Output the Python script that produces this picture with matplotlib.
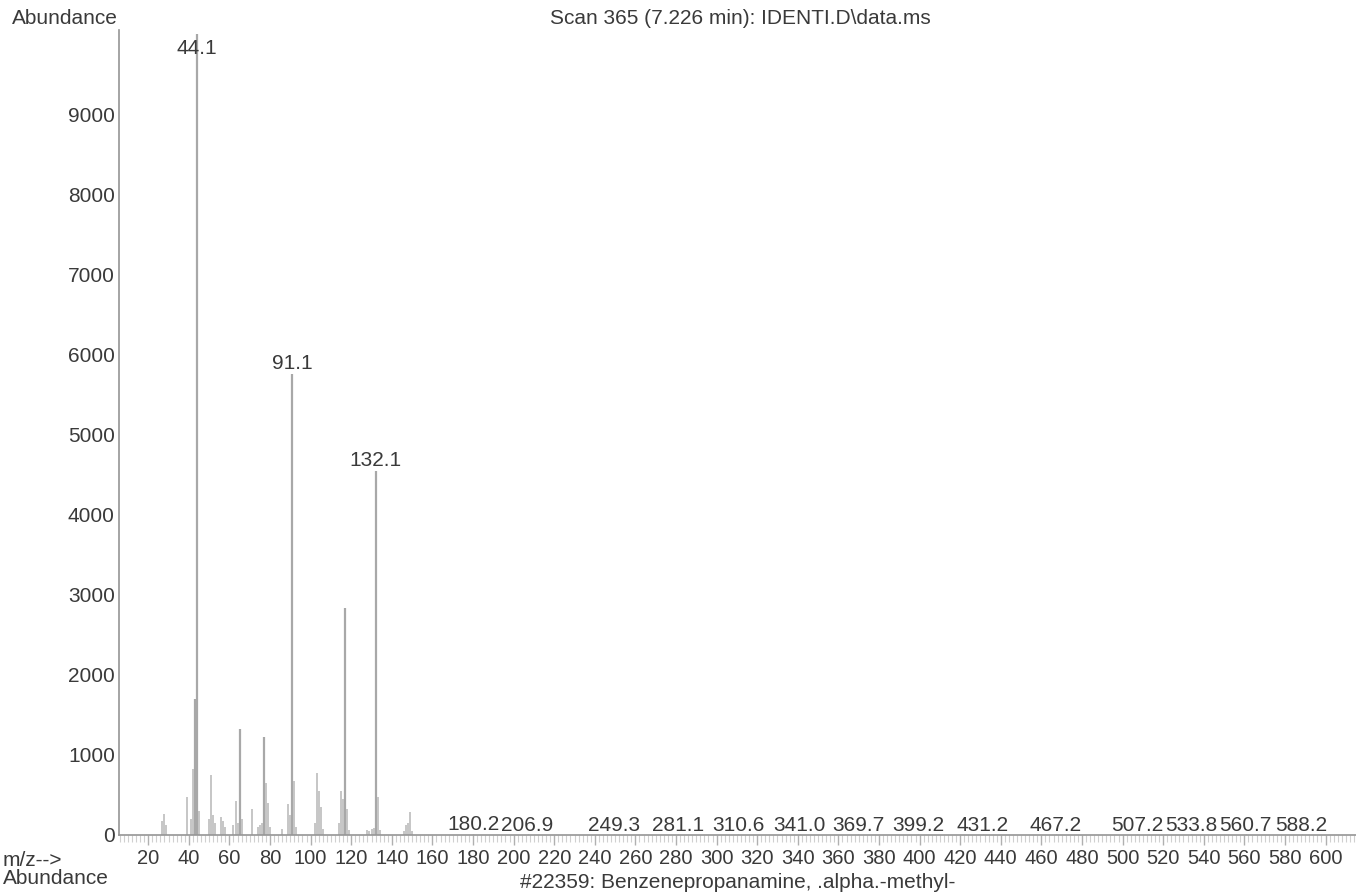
import numpy as np
from matplotlib import pyplot as plt
from matplotlib.ticker import MultipleLocator

plt.rcParams['font.family'] = ['Liberation Sans', 'DejaVu Sans']

# m/z values and abundances
mz = [27, 28, 29, 39, 41, 42, 43, 44, 45, 50, 51, 52, 53, 56, 57, 58,
      62, 63, 64, 65, 66, 71, 74, 75, 76, 77, 78, 79, 80, 86, 89, 90, 91, 92, 93,
      102, 103, 104, 105, 106, 114, 115, 116, 117, 118, 119,
      128, 129, 130, 131, 132, 133, 134, 146, 147, 148, 149, 150]
abund = [180, 260, 120, 480, 200, 820, 1700, 10000, 300, 200, 750, 250, 150, 220, 180, 100,
         120, 430, 150, 1320, 200, 330, 100, 120, 150, 1220, 650, 400, 100, 80, 390, 250, 5750, 680, 100,
         150, 780, 550, 350, 80, 150, 550, 450, 2830, 320, 60,
         60, 50, 70, 90, 4550, 480, 60, 50, 120, 150, 290, 50]

# labelled peaks
label_mz = [44.1, 91.1, 132.1]
label_txt = ['44.1', '91.1', '132.1']
# tiny labelled peaks in the high mass range
small_mz = [180.2, 206.9, 249.3, 281.1, 310.6, 341.0, 369.7, 399.2, 431.2, 467.2,
            507.2, 533.8, 560.7, 588.2]
small_ab = [15, 10, 10, 10, 10, 10, 10, 10, 10, 10, 10, 10, 10, 10]
small_txt = ['180.2', '206.9', '249.3', '281.1', '310.6', '341.0', '369.7', '399.2',
             '431.2', '467.2', '507.2', '533.8', '560.7', '588.2']

title = 'Scan 365 (7.226 min): IDENTI.D\\data.ms'
subtitle = '#22359: Benzenepropanamine, .alpha.-methyl-'

txt_col = '#3a3a3a'
ax_col = '#959595'
W, H = 1356, 894

fig = plt.figure(figsize=(W / 100, H / 100), dpi=100)
ax = fig.add_axes([119 / W, 1 - 835 / H, 1 - 119 / W, (835 - 30) / H])

big = [a >= 1000 for a in abund]
ax.vlines([m for m, b in zip(mz, big) if b], 0, [a for a, b in zip(abund, big) if b],
          color='#a8a8a8', lw=1.6)
ax.vlines([m for m, b in zip(mz, big) if not b], 0, [a for a, b in zip(abund, big) if not b],
          color='#bcbcbc', lw=1.2)
ax.vlines(small_mz, 0, small_ab, color='#bcbcbc', lw=1.0)

ymax = 10050
ax.set_xlim(5.6, 615)
ax.set_ylim(0, ymax)

lookup = dict(zip(mz, abund))
for m, t in zip(label_mz, label_txt):
    h = lookup[int(round(m))]
    y = min(h, ymax - 300)
    off = 5 if h < ymax - 300 else 0
    ax.annotate(t, (m, y), xytext=(0, off * 0.72), textcoords='offset points',
                ha='center', va='baseline', fontsize=15, color=txt_col)
for m, h, t in zip(small_mz, small_ab, small_txt):
    ax.annotate(t, (m, h), xytext=(0, 2.5), textcoords='offset points',
                ha='center', va='baseline', fontsize=15, color=txt_col)

for s in ['top', 'right']:
    ax.spines[s].set_visible(False)
for s in ['left', 'bottom']:
    ax.spines[s].set_color(ax_col)
    ax.spines[s].set_linewidth(1.2)

ax.xaxis.set_major_locator(MultipleLocator(20))
ax.xaxis.set_minor_locator(MultipleLocator(2))
ax.set_xticks(np.arange(20, 601, 20))
ax.set_yticks(np.arange(0, 9001, 1000))
ax.tick_params(axis='x', which='major', length=7, width=1, color='#b0b0b0',
               labelsize=14.5, labelcolor=txt_col, pad=3)
ax.tick_params(axis='x', which='minor', length=5, width=0.8, color='#d0d0d0')
ax.tick_params(axis='y', length=0, labelsize=15, labelcolor=txt_col, pad=3)

fig.text(12 / W, 1 - 19 / H, 'Abundance', ha='left', va='center', fontsize=15, color=txt_col)
fig.text(740 / W, 1 - 19 / H, title, ha='center', va='center', fontsize=15, color=txt_col)
fig.text(3 / W, 1 - 861 / H, 'm/z-->', ha='left', va='center', fontsize=15, color=txt_col)
fig.text(3 / W, 1 - 879 / H, 'Abundance', ha='left', va='center', fontsize=15, color=txt_col)
fig.text(738 / W, 1 - 883 / H, subtitle, ha='center', va='center', fontsize=15, color=txt_col)

fig.savefig('out.png', dpi=100)
